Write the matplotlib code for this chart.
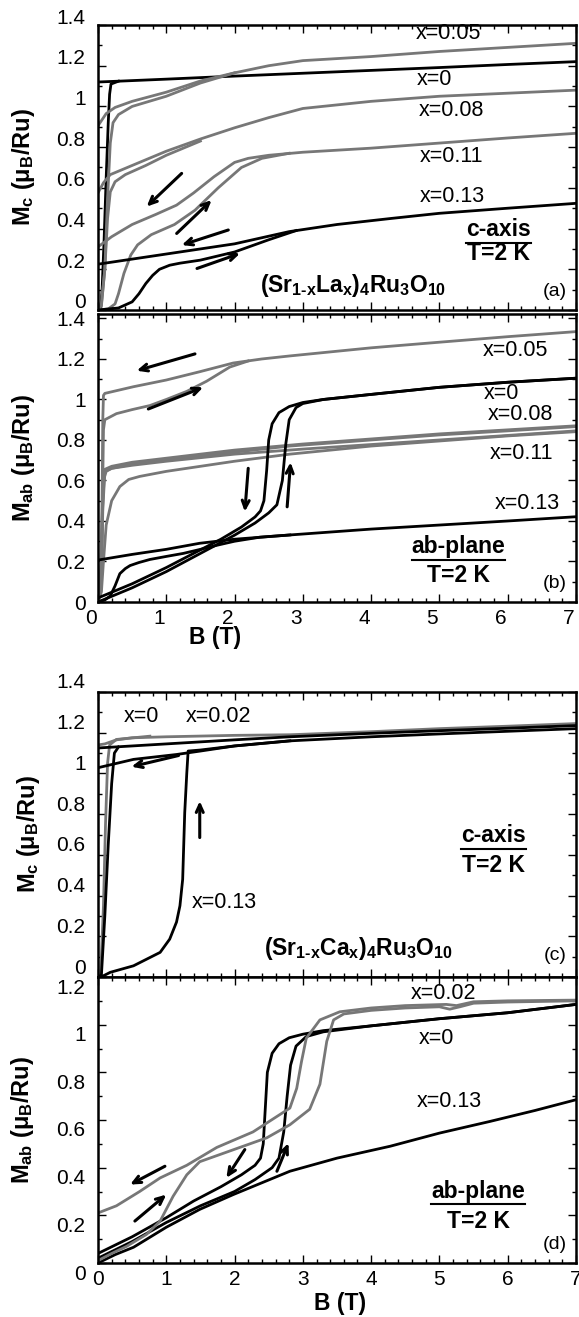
import numpy as np
import matplotlib
matplotlib.use('Agg')
import matplotlib.pyplot as plt
from matplotlib.ticker import MultipleLocator, FuncFormatter
from matplotlib.transforms import ScaledTranslation
from matplotlib.lines import Line2D

plt.rcParams['font.family'] = ['Liberation Sans', 'DejaVu Sans']
plt.rcParams['mathtext.fontset'] = 'custom'
plt.rcParams['mathtext.rm'] = 'Liberation Sans:bold'
plt.rcParams['mathtext.it'] = 'Liberation Sans:bold'
plt.rcParams['mathtext.bf'] = 'Liberation Sans:bold'

GRAY = '#777777'

# ---- (a) c-axis, (Sr1-xLax)4Ru3O10 ----
a0_up_B = [0.0, 0.04, 0.06, 0.09, 0.12, 0.15, 0.17, 0.19, 0.3]
a0_up_M = [0.0, 0.005, 0.1, 0.35, 0.65, 0.92, 1.06, 1.11, 1.124]
a0_dn_B = [7.0, 6.0, 5.0, 4.0, 3.0, 2.0, 1.0, 0.3, 0.0]
a0_dn_M = [1.22, 1.206, 1.191, 1.177, 1.163, 1.149, 1.134, 1.124, 1.12]

a5_up_B = [0.0, 0.05, 0.1, 0.14, 0.18, 0.22, 0.3, 0.5, 1.0, 1.5, 2.0]
a5_up_M = [0.0, 0.02, 0.2, 0.55, 0.82, 0.92, 0.96, 1.0, 1.05, 1.115, 1.165]
a5_dn_B = [7.0, 6.0, 5.0, 4.0, 3.0, 2.5, 2.0, 1.5, 1.0, 0.5, 0.25, 0.12, 0.05, 0.0]
a5_dn_M = [1.31, 1.29, 1.27, 1.245, 1.225, 1.2, 1.165, 1.125, 1.07, 1.025, 0.995, 0.965, 0.93, 0.905]

a8_up_B = [0.0, 0.05, 0.1, 0.14, 0.18, 0.25, 0.4, 0.7, 1.0, 1.5]
a8_up_M = [0.0, 0.03, 0.2, 0.45, 0.58, 0.63, 0.665, 0.71, 0.76, 0.83]
a8_dn_B = [7.0, 6.0, 5.0, 4.0, 3.0, 2.5, 2.0, 1.5, 1.0, 0.5, 0.18, 0.08, 0.0]
a8_dn_M = [1.08, 1.065, 1.05, 1.025, 0.99, 0.945, 0.895, 0.84, 0.78, 0.71, 0.665, 0.625, 0.575]

a11_up_B = [0.0, 0.15, 0.25, 0.3, 0.38, 0.48, 0.58, 0.78, 1.12, 1.42, 1.76, 2.1, 2.4, 2.8]
a11_up_M = [0.0, 0.005, 0.03, 0.08, 0.18, 0.27, 0.32, 0.37, 0.42, 0.49, 0.6, 0.7, 0.745, 0.77]
a11_dn_B = [7.0, 6.0, 5.0, 4.0, 3.0, 2.5, 2.2, 2.0, 1.7, 1.4, 1.15, 0.85, 0.5, 0.2, 0.1, 0.0]
a11_dn_M = [0.868, 0.845, 0.82, 0.795, 0.775, 0.76, 0.745, 0.725, 0.655, 0.575, 0.515, 0.47, 0.42, 0.36, 0.335, 0.31]

a13_up_B = [0.0, 0.3, 0.5, 0.6, 0.7, 0.8, 0.9, 1.05, 1.2, 1.5, 2.0, 2.5, 2.9]
a13_up_M = [0.0, 0.01, 0.04, 0.08, 0.13, 0.17, 0.2, 0.22, 0.23, 0.245, 0.285, 0.345, 0.39]
a13_dn_B = [7.0, 6.0, 5.0, 4.3, 3.5, 2.8, 2.4, 2.0, 1.5, 1.0, 0.5, 0.0]
a13_dn_M = [0.524, 0.5, 0.475, 0.45, 0.42, 0.385, 0.355, 0.325, 0.3, 0.275, 0.25, 0.225]

# ---- (b) ab-plane, (Sr1-xLax)4Ru3O10 ----
b0_up_B = [0.0, 0.5, 1.0, 1.5, 2.0, 2.3, 2.5, 2.62, 2.7, 2.75, 2.8, 2.9, 3.0, 3.3, 4.0, 5.0, 6.0, 7.0]
b0_up_M = [0.0, 0.07, 0.15, 0.24, 0.33, 0.39, 0.44, 0.48, 0.6, 0.78, 0.9, 0.96, 0.98, 1.0, 1.025, 1.06, 1.085, 1.105]
b0_dn_B = [7.0, 6.0, 5.0, 4.0, 3.3, 3.0, 2.8, 2.65, 2.55, 2.5, 2.47, 2.43, 2.38, 2.3, 2.1, 1.8, 1.4, 1.0, 0.5, 0.0]
b0_dn_M = [1.105, 1.085, 1.06, 1.025, 1.0, 0.985, 0.965, 0.935, 0.88, 0.8, 0.65, 0.5, 0.45, 0.42, 0.37, 0.31, 0.24, 0.17, 0.09, 0.02]

b5_up_B = [0.0, 0.04, 0.06, 0.07, 0.08, 0.1, 0.27, 0.5, 0.76, 1.0, 1.3, 1.59, 1.93, 2.2]
b5_up_M = [0.0, 0.05, 0.3, 0.6, 0.85, 0.9, 0.93, 0.95, 0.97, 1.0, 1.04, 1.09, 1.16, 1.19]
b5_dn_B = [7.0, 6.0, 4.9, 4.0, 2.81, 2.4, 1.98, 1.49, 1.0, 0.52, 0.1, 0.08, 0.07, 0.06, 0.04, 0.0]
b5_dn_M = [1.335, 1.31, 1.28, 1.255, 1.215, 1.2, 1.18, 1.137, 1.096, 1.063, 1.03, 1.02, 0.9, 0.5, 0.1, 0.0]

b8_up_B = [0.0, 0.04, 0.06, 0.08, 0.12, 0.2, 0.5, 1.0, 2.0, 2.81, 4.0, 5.0, 6.0, 7.0]
b8_up_M = [0.0, 0.1, 0.4, 0.6, 0.645, 0.66, 0.68, 0.7, 0.74, 0.77, 0.8, 0.825, 0.845, 0.866]
b8_dn_B = [7.0, 5.0, 3.0, 2.0, 1.0, 0.5, 0.2, 0.1, 0.07, 0.05, 0.0]
b8_dn_M = [0.87, 0.83, 0.78, 0.75, 0.71, 0.69, 0.67, 0.655, 0.5, 0.2, 0.0]

b11_up_B = [0.0, 0.05, 0.08, 0.12, 0.2, 0.32, 0.45, 0.61, 1.0, 2.0, 2.81, 4.0, 5.0, 6.0, 7.0]
b11_up_M = [0.0, 0.05, 0.2, 0.38, 0.5, 0.57, 0.605, 0.62, 0.645, 0.695, 0.73, 0.77, 0.795, 0.82, 0.841]
b11_dn_B = [7.0, 5.0, 3.0, 2.0, 1.0, 0.5, 0.2, 0.1, 0.07, 0.05, 0.0]
b11_dn_M = [0.845, 0.8, 0.755, 0.73, 0.695, 0.675, 0.66, 0.645, 0.45, 0.15, 0.0]

b13_up_B = [0.0, 0.1, 0.18, 0.25, 0.32, 0.4, 0.47, 0.6, 0.76, 1.0, 1.25, 1.5, 1.74, 2.0, 2.37, 2.81]
b13_up_M = [0.0, 0.01, 0.03, 0.08, 0.14, 0.165, 0.18, 0.195, 0.21, 0.225, 0.24, 0.26, 0.28, 0.3, 0.32, 0.331]
b13_dn_B = [7.0, 6.0, 5.0, 4.0, 2.81, 2.0, 1.49, 1.0, 0.5, 0.0]
b13_dn_M = [0.421, 0.4, 0.38, 0.36, 0.331, 0.31, 0.29, 0.26, 0.235, 0.207]

# ---- (c) c-axis, (Sr1-xCax)4Ru3O10 ----
c0_up_B = [0.0, 0.05, 0.1, 0.15, 0.2, 0.24, 0.3]
c0_up_M = [0.0, 0.01, 0.3, 0.65, 0.95, 1.1, 1.13]
c0_dn_B = [7.0, 6.0, 5.0, 4.0, 2.81, 2.0, 1.0, 0.0]
c0_dn_M = [1.235, 1.222, 1.21, 1.197, 1.18, 1.165, 1.145, 1.125]

c2_up_B = [0.0, 0.04, 0.08, 0.11, 0.14, 0.17, 0.27, 0.76]
c2_up_M = [0.0, 0.02, 0.35, 0.75, 1.05, 1.14, 1.167, 1.183]
c2_dn_B = [7.0, 6.0, 5.0, 4.0, 2.81, 2.0, 1.0, 0.5, 0.27, 0.1, 0.0]
c2_dn_M = [1.245, 1.232, 1.22, 1.205, 1.19, 1.187, 1.18, 1.175, 1.165, 1.145, 1.14]

c13_up_B = [0.0, 0.08, 0.18, 0.52, 0.91, 1.05, 1.15, 1.2, 1.24, 1.27, 1.3, 1.32, 1.5, 2.0, 2.81]
c13_up_M = [0.0, 0.006, 0.023, 0.055, 0.121, 0.186, 0.27, 0.35, 0.48, 0.807, 1.0, 1.11, 1.115, 1.135, 1.16]
c13_dn_B = [7.0, 6.0, 5.0, 4.0, 2.81, 2.0, 1.5, 1.15, 0.52, 0.0]
c13_dn_M = [1.22, 1.207, 1.194, 1.18, 1.16, 1.135, 1.11, 1.093, 1.069, 1.028]

# ---- (d) ab-plane, (Sr1-xCax)4Ru3O10 ----
d0_up_B = [0.0, 0.5, 1.0, 1.5, 2.0, 2.3, 2.55, 2.65, 2.72, 2.77, 2.82, 2.9, 3.05, 3.3, 4.0, 5.0, 6.0, 7.0]
d0_up_M = [0.02, 0.09, 0.17, 0.24, 0.3, 0.35, 0.4, 0.44, 0.55, 0.7, 0.83, 0.91, 0.95, 0.97, 0.995, 1.025, 1.05, 1.085]
d0_dn_B = [7.0, 6.0, 5.0, 4.0, 3.3, 3.0, 2.8, 2.65, 2.55, 2.48, 2.45, 2.42, 2.38, 2.3, 2.1, 1.8, 1.4, 1.0, 0.5, 0.0]
d0_dn_M = [1.085, 1.05, 1.025, 0.995, 0.975, 0.96, 0.945, 0.92, 0.88, 0.8, 0.65, 0.5, 0.44, 0.41, 0.37, 0.32, 0.26, 0.19, 0.11, 0.04]

d2_up_B = [0.0, 0.2, 0.42, 0.71, 0.91, 1.1, 1.3, 1.49, 1.98, 2.47, 2.81, 3.1, 3.25, 3.35, 3.45, 3.6, 4.0, 4.5, 5.0, 5.15, 5.3, 5.5, 6.0, 7.0]
d2_up_M = [0.01, 0.04, 0.07, 0.12, 0.176, 0.28, 0.37, 0.425, 0.475, 0.525, 0.58, 0.645, 0.75, 0.93, 1.02, 1.045, 1.06, 1.07, 1.075, 1.065, 1.075, 1.09, 1.095, 1.1]
d2_dn_B = [7.0, 6.0, 5.5, 5.25, 5.1, 4.5, 4.0, 3.54, 3.25, 3.05, 2.98, 2.91, 2.81, 2.27, 1.74, 1.3, 0.91, 0.61, 0.27, 0.0]
d2_dn_M = [1.103, 1.1, 1.096, 1.08, 1.085, 1.08, 1.07, 1.054, 1.02, 0.943, 0.845, 0.733, 0.65, 0.55, 0.485, 0.41, 0.357, 0.3, 0.24, 0.21]

d13_B = [0.0, 0.25, 0.52, 1.0, 1.49, 1.98, 2.81, 3.5, 4.28, 5.0, 5.74, 6.4, 7.0]
d13_M = [0.0, 0.035, 0.066, 0.15, 0.225, 0.287, 0.385, 0.44, 0.49, 0.545, 0.594, 0.64, 0.685]

curves_a = [(a0_up_B, a0_up_M, 'k'), (a0_dn_B, a0_dn_M, 'k'),
            (a5_up_B, a5_up_M, GRAY), (a5_dn_B, a5_dn_M, GRAY),
            (a8_up_B, a8_up_M, GRAY), (a8_dn_B, a8_dn_M, GRAY),
            (a11_up_B, a11_up_M, GRAY), (a11_dn_B, a11_dn_M, GRAY),
            (a13_up_B, a13_up_M, 'k'), (a13_dn_B, a13_dn_M, 'k')]
curves_b = [(b5_up_B, b5_up_M, GRAY), (b5_dn_B, b5_dn_M, GRAY),
            (b8_up_B, b8_up_M, GRAY), (b8_dn_B, b8_dn_M, GRAY),
            (b11_up_B, b11_up_M, GRAY), (b11_dn_B, b11_dn_M, GRAY),
            (b0_up_B, b0_up_M, 'k'), (b0_dn_B, b0_dn_M, 'k'),
            (b13_up_B, b13_up_M, 'k'), (b13_dn_B, b13_dn_M, 'k')]
curves_c = [(c2_up_B, c2_up_M, GRAY), (c2_dn_B, c2_dn_M, GRAY),
            (c0_up_B, c0_up_M, 'k'), (c0_dn_B, c0_dn_M, 'k'),
            (c13_up_B, c13_up_M, 'k'), (c13_dn_B, c13_dn_M, 'k')]
curves_d = [(d13_B, d13_M, 'k'),
            (d0_up_B, d0_up_M, 'k'), (d0_dn_B, d0_dn_M, 'k'),
            (d2_up_B, d2_up_M, GRAY), (d2_dn_B, d2_dn_M, GRAY)]

fig = plt.figure(figsize=(5.79, 13.17), dpi=100)


def box(top, bottom):
    return [98 / 579, 1 - bottom / 1317, 478 / 579, (bottom - top) / 1317]


ax_a = fig.add_axes(box(25, 310))
ax_b = fig.add_axes(box(314, 602))
ax_c = fig.add_axes(box(692, 977))
ax_d = fig.add_axes(box(977, 1263))


def setup(ax, ymax, yticks, xlabels):
    ax.set_xlim(0, 7)
    ax.set_ylim(0, ymax)
    ax.set_xticks(range(8))
    ax.set_yticks(yticks)
    ax.xaxis.set_minor_locator(MultipleLocator(0.2))
    ax.yaxis.set_minor_locator(MultipleLocator(0.1))
    ax.xaxis.set_major_formatter(FuncFormatter(lambda v, p: f'{v:g}'))
    ax.yaxis.set_major_formatter(FuncFormatter(lambda v, p: f'{v:g}'))
    ax.tick_params(which='both', direction='in', top=True, right=True,
                   labelsize=15, width=1.0, labelbottom=xlabels)
    ax.tick_params(which='major', length=6)
    ax.tick_params(which='minor', length=3)
    ax.tick_params(axis='y', pad=9)
    ax.tick_params(axis='x', pad=5)
    for s in ax.spines.values():
        s.set_linewidth(1.8)


def shift_labels(axis, dx, dy):
    off = ScaledTranslation(dx / 100, dy / 100, fig.dpi_scale_trans)
    for t in axis.get_major_ticks():
        t.label1.set_transform(t.label1.get_transform() + off)


def arrow(ax, x0, y0, x1, y1):
    ax.annotate('', xy=(x1, y1), xytext=(x0, y0),
                arrowprops=dict(arrowstyle='->,head_length=0.55,head_width=0.25',
                                lw=2.2, color='k', shrinkA=0, shrinkB=0))


yt14 = [0, 0.2, 0.4, 0.6, 0.8, 1.0, 1.2, 1.4]
yt12 = [0, 0.2, 0.4, 0.6, 0.8, 1.0, 1.2]
setup(ax_a, 1.4, yt14, False)
setup(ax_b, 1.422, yt14, True)
setup(ax_c, 1.4, yt14, False)
setup(ax_d, 1.2, yt12, True)
shift_labels(ax_a.yaxis, 0, 9)
shift_labels(ax_b.xaxis, -7, 0)
shift_labels(ax_c.yaxis, 0, 11)
shift_labels(ax_d.yaxis, 0, -9)

for ax, curves in [(ax_a, curves_a), (ax_b, curves_b), (ax_c, curves_c), (ax_d, curves_d)]:
    for B, M, col in curves:
        ax.plot(B, M, color=col, lw=2.0, solid_joinstyle='round')

# axis labels
ylab_kw = dict(fontsize=17, fontweight='bold')
ax_a.set_ylabel(r'$M_c$ ($\mu_B$/Ru)', **ylab_kw)
ax_b.set_ylabel(r'$M_{ab}$ ($\mu_B$/Ru)', **ylab_kw)
ax_c.set_ylabel(r'$M_c$ ($\mu_B$/Ru)', **ylab_kw)
ax_d.set_ylabel(r'$M_{ab}$ ($\mu_B$/Ru)', **ylab_kw)
ax_a.yaxis.set_label_coords(-0.127, 0.5)
ax_b.yaxis.set_label_coords(-0.127, 0.5)
ax_c.yaxis.set_label_coords(-0.117, 0.5)
ax_d.yaxis.set_label_coords(-0.13, 0.5)
ax_b.set_xlabel('B (T)', fontsize=16.5, fontweight='bold')
ax_d.set_xlabel('B (T)', fontsize=16.5, fontweight='bold')
ax_b.xaxis.set_label_coords(0.245, -0.085)
ax_d.xaxis.set_label_coords(0.506, -0.1)

txt = dict(fontsize=15.5, ha='center', va='center')
ax_a.text(5.13, 1.359, 'x=0.05', **txt)
ax_a.text(4.93, 1.13, 'x=0', **txt)
ax_a.text(5.17, 0.982, 'x=0.08', **txt)
ax_a.text(5.18, 0.753, 'x=0.11', **txt)
ax_a.text(5.19, 0.557, 'x=0.13', **txt)
ax_b.text(6.11, 1.244, 'x=0.05', **txt)
ax_b.text(5.91, 1.03, 'x=0', **txt)
ax_b.text(6.18, 0.925, 'x=0.08', **txt)
ax_b.text(6.2, 0.734, 'x=0.11', **txt)
ax_b.text(6.28, 0.487, 'x=0.13', **txt)
ax_c.text(0.64, 1.281, 'x=0', **txt)
ax_c.text(1.76, 1.281, 'x=0.02', **txt)
ax_c.text(1.845, 0.366, 'x=0.13', **txt)
ax_d.text(5.06, 1.131, 'x=0.02', **txt)
ax_d.text(4.96, 0.943, 'x=0', **txt)
ax_d.text(5.15, 0.678, 'x=0.13', **txt)

bold = dict(fontsize=16.5, fontweight='bold', ha='center', va='center')
under = [ax_a.text(5.87, 0.393, 'c-axis', **bold), ax_b.text(5.28, 0.273, 'ab-plane', **bold),
         ax_c.text(5.79, 0.693, 'c-axis', **bold), ax_d.text(5.57, 0.301, 'ab-plane', **bold)]
ax_a.text(5.86, 0.278, 'T=2 K', **bold)
ax_b.text(5.28, 0.133, 'T=2 K', **bold)
ax_c.text(5.79, 0.546, 'T=2 K', **bold)
ax_d.text(5.57, 0.176, 'T=2 K', **bold)

ax_a.text(3.73, 0.088, r'$(Sr_{1\text{-}x}La_x)_4Ru_3O_{10}$', fontsize=16.5, ha='center', va='baseline')
ax_c.text(3.82, 0.11, r'$(Sr_{1\text{-}x}Ca_x)_4Ru_3O_{10}$', fontsize=16.5, ha='center', va='baseline')

panel = dict(fontsize=14, ha='center', va='center')
ax_a.text(6.69, 0.093, '(a)', **panel)
ax_b.text(6.69, 0.092, '(b)', **panel)
ax_c.text(6.69, 0.104, '(c)', **panel)
ax_d.text(6.69, 0.078, '(d)', **panel)

# sweep direction arrows
arrow(ax_a, 1.225, 0.671, 0.713, 0.508)
arrow(ax_a, 1.152, 0.376, 1.664, 0.540)
arrow(ax_a, 1.908, 0.393, 1.226, 0.319)
arrow(ax_a, 1.45, 0.204, 2.08, 0.278)
arrow(ax_b, 1.42, 1.225, 0.566, 1.142)
arrow(ax_b, 0.737, 0.953, 1.54, 1.06)
arrow(ax_b, 2.2, 0.66, 2.15, 0.446)
arrow(ax_b, 2.77, 0.47, 2.82, 0.69)
arrow(ax_c, 1.18, 1.088, 0.49, 1.033)
arrow(ax_c, 1.49, 0.685, 1.49, 0.864)
arrow(ax_d, 0.98, 0.406, 0.47, 0.329)
arrow(ax_d, 0.54, 0.176, 1.0, 0.287)
arrow(ax_d, 2.15, 0.476, 1.88, 0.357)
arrow(ax_d, 2.62, 0.385, 2.79, 0.503)

# underline the orientation labels
fig.canvas.draw()
r = fig.canvas.get_renderer()
for t in under:
    bb = t.get_window_extent(r)
    inv = t.axes.transAxes.inverted()
    (x0, y0), (x1, _) = inv.transform([[bb.x0, bb.y0 - 1.5], [bb.x1, bb.y1]])
    t.axes.add_artist(Line2D([x0, x1], [y0, y0], transform=t.axes.transAxes,
                             color='k', lw=1.5, clip_on=False))

fig.savefig('out.png', dpi=100)
